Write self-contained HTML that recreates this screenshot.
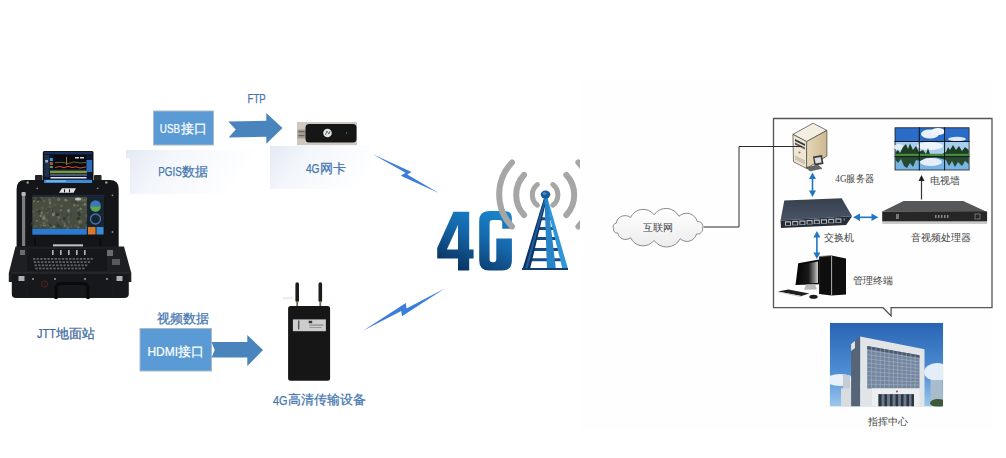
<!DOCTYPE html>
<html><head><meta charset="utf-8">
<style>
html,body{margin:0;padding:0;background:#fff;width:1006px;height:458px;overflow:hidden;}
body{position:relative;font-family:"Liberation Sans",sans-serif;}
svg{position:absolute;left:0;top:0;}
.t{position:absolute;white-space:nowrap;line-height:1;}
.bl{color:#4a7ebb;font-size:13px;}
.wh{color:#fff;font-size:13px;}
.sr{font-family:"Liberation Serif",serif;color:#333;font-size:10px;}
</style></head><body>
<svg width="1006" height="458" viewBox="0 0 1006 458">
<defs>
  <linearGradient id="fadeA" gradientUnits="userSpaceOnUse" x1="126" y1="150" x2="215" y2="215">
    <stop offset="0" stop-color="#e3e9f3"/>
    <stop offset="0.35" stop-color="#f3f6fb"/>
    <stop offset="1" stop-color="#ffffff"/>
  </linearGradient>
  <linearGradient id="fadeB" gradientUnits="userSpaceOnUse" x1="270" y1="146" x2="345" y2="205">
    <stop offset="0" stop-color="#e3e9f3"/>
    <stop offset="0.35" stop-color="#f3f6fb"/>
    <stop offset="1" stop-color="#ffffff"/>
  </linearGradient>
  <linearGradient id="g4g" gradientUnits="userSpaceOnUse" x1="500" y1="205" x2="470" y2="275">
    <stop offset="0" stop-color="#1a8bd2"/>
    <stop offset="0.5" stop-color="#1567ab"/>
    <stop offset="1" stop-color="#0a3360"/>
  </linearGradient>
  <linearGradient id="sky" x1="0" y1="0" x2="0" y2="1">
    <stop offset="0" stop-color="#2d6fbf"/>
    <stop offset="1" stop-color="#9cc6ea"/>
  </linearGradient>
</defs>
<!-- faint right backdrop -->
<rect x="580" y="79" width="413" height="351" fill="#fdfdfd" opacity="0.6"/>
<!-- fade boxes -->
<path d="M126 150 H270 V194 H130 V158 H126 Z" fill="url(#fadeA)"/>
<rect x="270" y="146" width="101" height="43" fill="url(#fadeB)"/>

<!-- USB box -->
<rect x="153.5" y="111" width="60" height="34" fill="#5b9bd5" stroke="#a9b9c9" stroke-width="1"/>
<!-- arrow 1 -->
<polygon points="228.3,121.4 266.3,120.7 266.3,113.1 282.5,127.9 266.3,143.7 266.3,136.7 228.7,137.6 235.7,129.5" fill="#4a84bd"/>
<!-- dongle -->
<rect x="297" y="122" width="60" height="23.2" fill="#cec8c2"/>
<rect x="297.5" y="129.5" width="9" height="9" fill="#a59c92"/>
<rect x="298.5" y="131" width="6" height="1.2" fill="#6a625a"/><rect x="298.5" y="135" width="6" height="1.2" fill="#6a625a"/>
<rect x="305.5" y="124" width="51" height="18.5" rx="3.5" fill="#161616"/>
<circle cx="327.5" cy="133" r="4.3" fill="#e4e4e4"/>
<path d="M325.5 135 L327 131 L329 134 L330 131" fill="none" stroke="#555" stroke-width="0.8"/>
<rect x="346" y="132.5" width="1.2" height="1" fill="#888"/>

<!-- HDMI box -->
<rect x="140" y="328.5" width="71.5" height="42.5" fill="#5b9bd5" stroke="#a9b9c9" stroke-width="1"/>
<polygon points="211.5,341.9 247.3,341.9 247.3,334.9 263,350.1 247.3,366 247.3,357.6 211.5,357.6 214.7,350.1" fill="#4a84bd"/>

<!-- lightning bolts -->
<polygon points="372.3,153.9 411.6,171.9 407.2,174.5 438.7,192.9 400.8,175.8 405.5,172.8" fill="#3b7ddb"/>
<polygon points="363,330.8 405.8,303 406.5,308.6 444.7,288.4 402,316.3 401.2,311" fill="#3b7ddb"/>

<!-- 4G logo -->
<g>
  <path d="M453.5 211.7 H469.2 V249.6 H473.6 V258.5 H469.2 V270.4 H458 V258.5 H437.2 V248.1 Z M458 225.1 V249.6 H446.9 Z" fill="url(#g4g)" fill-rule="evenodd"/>
  <path d="M489.5 210.9 H504.5 Q511.9 210.9 511.9 218.3 V228.8 H502.2 V222.9 Q502.2 219.9 499.2 219.9 H492.6 Q489.6 219.9 489.6 222.9 V259.2 Q489.6 262.2 492.6 262.2 H493.3 Q496.3 262.2 496.3 259.2 V238.4 H511.9 V260.4 Q511.9 270.4 501.9 270.4 H489.2 Q479.2 270.4 479.2 260.4 V220.9 Q479.2 210.9 489.2 210.9 Z" fill="url(#g4g)"/>
  <!-- waves -->
  <clipPath id="wclip"><rect x="480" y="150" width="100" height="90"/></clipPath>
  <g fill="none" stroke="#a6a6a6" stroke-linecap="round" clip-path="url(#wclip)">
    <path d="M537.4 184.6 A13 13 0 0 0 537.4 205.2" stroke-width="5"/>
    <path d="M552.8 184.6 A13 13 0 0 1 552.8 205.2" stroke-width="5"/>
    <path d="M524.1 174.9 A29.5 29.5 0 0 0 524.1 215.1" stroke-width="6"/>
    <path d="M566.3 174.9 A29.5 29.5 0 0 1 566.3 215.1" stroke-width="6"/>
    <path d="M512 162.5 A46.4 46.4 0 0 0 512 226.5" stroke-width="6"/>
    <path d="M578.4 162.5 A46.4 46.4 0 0 1 578.4 226.5" stroke-width="6"/>
  </g>
  <!-- tower -->
  <g stroke="#184c88" stroke-width="3">
    <line x1="539" y1="218.8" x2="553" y2="218.8"/>
    <line x1="536" y1="228.5" x2="556" y2="228.5"/>
    <line x1="533" y1="238.5" x2="559" y2="238.5"/>
    <line x1="529.5" y1="249.4" x2="562" y2="249.4"/>
    <line x1="526" y1="259.7" x2="565" y2="259.7"/>
  </g>
  <polygon points="544,198 547,198 530,269 522.5,269" fill="#0c3262"/>
  <polygon points="544.5,198 546,199 527.5,269 525,269" fill="#1f5e9e"/>
  <polygon points="545,198 547.5,198 568,269 562.5,269" fill="#2f96d8"/>
  <polygon points="544.5,198 547.5,198 556,270 547,270" fill="#2784c8"/>
  <rect x="522" y="268" width="46" height="2" fill="#123e70"/>
  <ellipse cx="545.5" cy="194.6" rx="4.8" ry="4" fill="#1a5a98"/>
  <ellipse cx="544.5" cy="193.5" rx="2" ry="1.5" fill="#3a8ad0"/>
</g>

<!-- ground station -->
<g>
  <!-- lid -->
  <rect x="35" y="175" width="7.5" height="7" rx="1" fill="#222428"/>
  <rect x="94" y="175" width="7.5" height="7" rx="1" fill="#222428"/>
  <path d="M16.6 247 V189 Q16.6 180 25 180 H110 Q118.7 180 118.7 189 V247 Z" fill="#141519"/>
  <circle cx="27.7" cy="182.5" r="1.2" fill="#9a9a9a"/><circle cx="106.3" cy="182.5" r="1.2" fill="#9a9a9a"/><circle cx="37.3" cy="188.3" r="0.9" fill="#888"/><circle cx="97.6" cy="188.3" r="0.9" fill="#888"/><circle cx="112.5" cy="195.3" r="0.9" fill="#888"/><circle cx="112.5" cy="232" r="0.9" fill="#888"/>
  <path d="M59 192.7 L62 188.3 H76 L73.5 192.7 Z" fill="#e0e0e0"/><rect x="64" y="189.3" width="1" height="3" fill="#141519"/><rect x="69" y="189.3" width="1" height="3" fill="#141519"/>
  <!-- top monitor -->
  <rect x="42.8" y="150.9" width="50.7" height="33.2" rx="1.5" fill="#121418"/>
  <rect x="44.1" y="152.2" width="48" height="31" fill="#0e1630"/>
  <rect x="44.1" y="152.6" width="48" height="0.8" fill="#2a5aa0"/>
  <rect x="44.5" y="155" width="4.5" height="22" fill="#22304a"/>
  <rect x="45.2" y="160" width="2.8" height="2.5" fill="#9ab4d0"/>
  <rect x="49.8" y="158" width="3" height="3" fill="#3a9ad0"/><rect x="49.8" y="162" width="3" height="3" fill="#c05030"/><rect x="49.8" y="166" width="3" height="2" fill="#50a060"/>
  <rect x="53.7" y="155" width="32.3" height="14" fill="#080a10"/>
  <polyline points="55,162.7 62,162.3 68,163.5 74,162 80,163 86,162.5" fill="none" stroke="#8a8a30" stroke-width="0.7"/>
  <polyline points="55,167.5 60,166.5 64,167.8 68,166.3 72,167.5 76,166.8 80,168 86,167" fill="none" stroke="#e04830" stroke-width="1"/>
  <rect x="66" y="157" width="1" height="8" fill="#b06a40"/>
  <rect x="75" y="157" width="4" height="1.5" fill="#d0d0d0"/><rect x="80" y="157" width="4" height="1.5" fill="#d0d0d0"/>
  <rect x="50" y="170.6" width="37" height="2.6" fill="#7a9a40"/>
  <rect x="50" y="174" width="37" height="2" fill="#4a5a6a"/>
  <rect x="50.5" y="177" width="36" height="1.5" fill="#e0e4ea"/>
  <rect x="44.1" y="179.8" width="48" height="3.2" fill="#3e8ad0"/>
  <rect x="46" y="180.5" width="20" height="1.2" fill="#8ac8f0"/>
  <rect x="86.5" y="160" width="5.6" height="12" fill="#2d6ab8"/>
  <!-- screen -->
  <rect x="31.8" y="194.2" width="72.6" height="41" fill="#0f1216"/>
  <rect x="32.3" y="196.5" width="54.8" height="32.3" fill="#474d40"/><circle cx="57.4" cy="214.4" r="1.7" fill="#2a3228" opacity="0.75"/><circle cx="57.4" cy="223.5" r="0.7" fill="#3a4535" opacity="0.75"/><circle cx="58.7" cy="216.0" r="0.7" fill="#2a3228" opacity="0.75"/><circle cx="49.4" cy="199.8" r="1.6" fill="#6a6a58" opacity="0.75"/><circle cx="67.3" cy="215.5" r="1.0" fill="#2a3228" opacity="0.75"/><circle cx="68.3" cy="216.1" r="0.7" fill="#7a7a6a" opacity="0.75"/><circle cx="77.9" cy="199.0" r="0.5" fill="#5a6050" opacity="0.75"/><circle cx="65.4" cy="221.1" r="0.9" fill="#3a4535" opacity="0.75"/><circle cx="78.5" cy="213.1" r="1.3" fill="#2a3228" opacity="0.75"/><circle cx="33.2" cy="199.6" r="1.4" fill="#2a3228" opacity="0.75"/><circle cx="86.9" cy="227.9" r="1.6" fill="#6a6a58" opacity="0.75"/><circle cx="46.7" cy="220.5" r="1.2" fill="#7a7a6a" opacity="0.75"/><circle cx="36.8" cy="220.8" r="1.0" fill="#8a8878" opacity="0.75"/><circle cx="53.9" cy="226.7" r="1.6" fill="#7a7a6a" opacity="0.75"/><circle cx="44.5" cy="225.7" r="0.6" fill="#2a3228" opacity="0.75"/><circle cx="85.9" cy="209.3" r="0.6" fill="#6a6a58" opacity="0.75"/><circle cx="43.7" cy="217.9" r="0.9" fill="#8a8878" opacity="0.75"/><circle cx="51.0" cy="226.9" r="1.5" fill="#7a7a6a" opacity="0.75"/><circle cx="40.3" cy="218.9" r="0.5" fill="#2a3228" opacity="0.75"/><circle cx="76.0" cy="202.5" r="1.2" fill="#2a3228" opacity="0.75"/><circle cx="60.5" cy="227.5" r="1.5" fill="#2a3228" opacity="0.75"/><circle cx="67.8" cy="200.6" r="1.0" fill="#5a6050" opacity="0.75"/><circle cx="33.0" cy="223.8" r="1.8" fill="#3a4535" opacity="0.75"/><circle cx="49.4" cy="224.4" r="0.8" fill="#2a3228" opacity="0.75"/><circle cx="86.8" cy="215.7" r="1.3" fill="#7a7a6a" opacity="0.75"/><circle cx="86.4" cy="203.6" r="0.8" fill="#3a4535" opacity="0.75"/><circle cx="50.8" cy="206.2" r="0.6" fill="#7a7a6a" opacity="0.75"/><circle cx="44.3" cy="216.7" r="0.5" fill="#8a8878" opacity="0.75"/><circle cx="53.1" cy="211.0" r="1.7" fill="#2a3228" opacity="0.75"/><circle cx="77.9" cy="201.2" r="1.0" fill="#6a6a58" opacity="0.75"/><circle cx="41.3" cy="225.2" r="1.6" fill="#5a6050" opacity="0.75"/><circle cx="72.2" cy="201.9" r="1.3" fill="#3a4535" opacity="0.75"/><circle cx="43.6" cy="226.5" r="1.6" fill="#3a4535" opacity="0.75"/><circle cx="37.2" cy="198.5" r="0.6" fill="#3a4535" opacity="0.75"/><circle cx="85.0" cy="204.4" r="1.4" fill="#8a8878" opacity="0.75"/><circle cx="55.7" cy="225.0" r="1.1" fill="#3a4535" opacity="0.75"/><circle cx="42.5" cy="219.3" r="0.6" fill="#5a6050" opacity="0.75"/><circle cx="58.9" cy="217.3" r="1.3" fill="#7a7a6a" opacity="0.75"/><circle cx="48.1" cy="225.4" r="0.8" fill="#7a7a6a" opacity="0.75"/><circle cx="36.7" cy="209.8" r="0.8" fill="#7a7a6a" opacity="0.75"/><circle cx="42.5" cy="208.4" r="1.2" fill="#5a6050" opacity="0.75"/><circle cx="38.0" cy="201.3" r="1.1" fill="#8a8878" opacity="0.75"/><circle cx="68.5" cy="218.4" r="1.3" fill="#5a6050" opacity="0.75"/><circle cx="64.9" cy="225.6" r="1.1" fill="#8a8878" opacity="0.75"/><circle cx="70.9" cy="226.8" r="0.5" fill="#6a6a58" opacity="0.75"/><circle cx="37.0" cy="199.1" r="0.9" fill="#5a6050" opacity="0.75"/><circle cx="87.0" cy="199.3" r="1.2" fill="#6a6a58" opacity="0.75"/><circle cx="35.4" cy="226.0" r="1.5" fill="#5a6050" opacity="0.75"/><circle cx="75.8" cy="225.4" r="1.0" fill="#6a6a58" opacity="0.75"/><circle cx="58.6" cy="199.4" r="1.6" fill="#7a7a6a" opacity="0.75"/><circle cx="79.6" cy="214.8" r="1.3" fill="#2a3228" opacity="0.75"/><circle cx="53.5" cy="197.4" r="0.6" fill="#7a7a6a" opacity="0.75"/><circle cx="67.5" cy="227.8" r="1.6" fill="#6a6a58" opacity="0.75"/><circle cx="50.8" cy="226.0" r="1.4" fill="#2a3228" opacity="0.75"/><circle cx="56.8" cy="223.0" r="0.6" fill="#3a4535" opacity="0.75"/><circle cx="34.6" cy="215.6" r="1.1" fill="#5a6050" opacity="0.75"/><circle cx="84.7" cy="200.5" r="1.5" fill="#6a6a58" opacity="0.75"/><circle cx="82.7" cy="204.9" r="0.5" fill="#8a8878" opacity="0.75"/><circle cx="40.7" cy="216.0" r="1.2" fill="#8a8878" opacity="0.75"/><circle cx="68.6" cy="210.7" r="1.7" fill="#8a8878" opacity="0.75"/><circle cx="54.9" cy="204.8" r="1.3" fill="#5a6050" opacity="0.75"/><circle cx="80.5" cy="208.9" r="1.3" fill="#8a8878" opacity="0.75"/><circle cx="44.3" cy="201.2" r="1.0" fill="#7a7a6a" opacity="0.75"/><circle cx="71.4" cy="226.5" r="0.9" fill="#5a6050" opacity="0.75"/><circle cx="39.1" cy="211.6" r="1.7" fill="#2a3228" opacity="0.75"/><circle cx="53.7" cy="213.1" r="1.4" fill="#6a6a58" opacity="0.75"/><circle cx="78.3" cy="227.4" r="1.1" fill="#7a7a6a" opacity="0.75"/><circle cx="77.8" cy="205.6" r="1.3" fill="#6a6a58" opacity="0.75"/><circle cx="71.3" cy="214.7" r="0.9" fill="#3a4535" opacity="0.75"/><circle cx="34.0" cy="201.2" r="1.1" fill="#7a7a6a" opacity="0.75"/><circle cx="74.5" cy="205.3" r="1.5" fill="#7a7a6a" opacity="0.75"/><circle cx="86.1" cy="200.6" r="0.6" fill="#3a4535" opacity="0.75"/><circle cx="68.4" cy="222.0" r="1.7" fill="#6a6a58" opacity="0.75"/><circle cx="43.7" cy="222.5" r="0.8" fill="#6a6a58" opacity="0.75"/><circle cx="33.6" cy="211.6" r="1.4" fill="#5a6050" opacity="0.75"/><circle cx="45.2" cy="221.1" r="1.2" fill="#3a4535" opacity="0.75"/><circle cx="60.0" cy="227.9" r="0.7" fill="#6a6a58" opacity="0.75"/><circle cx="81.9" cy="199.7" r="1.7" fill="#6a6a58" opacity="0.75"/><circle cx="54.0" cy="211.0" r="0.8" fill="#7a7a6a" opacity="0.75"/><circle cx="53.3" cy="214.6" r="1.6" fill="#8a8878" opacity="0.75"/><circle cx="58.0" cy="217.2" r="0.8" fill="#6a6a58" opacity="0.75"/><circle cx="79.8" cy="221.7" r="1.7" fill="#7a7a6a" opacity="0.75"/><circle cx="44.5" cy="224.9" r="1.8" fill="#8a8878" opacity="0.75"/><circle cx="62.0" cy="221.5" r="0.9" fill="#6a6a58" opacity="0.75"/><circle cx="79.2" cy="207.8" r="0.6" fill="#2a3228" opacity="0.75"/><circle cx="51.5" cy="210.1" r="0.9" fill="#7a7a6a" opacity="0.75"/><circle cx="44.8" cy="223.9" r="1.1" fill="#7a7a6a" opacity="0.75"/><circle cx="42.3" cy="207.4" r="1.5" fill="#5a6050" opacity="0.75"/><circle cx="58.4" cy="228.0" r="1.7" fill="#3a4535" opacity="0.75"/><circle cx="78.4" cy="218.4" r="1.7" fill="#2a3228" opacity="0.75"/><circle cx="64.3" cy="218.4" r="1.5" fill="#2a3228" opacity="0.75"/><circle cx="61.4" cy="206.0" r="1.4" fill="#6a6a58" opacity="0.75"/><circle cx="41.9" cy="212.9" r="1.7" fill="#8a8878" opacity="0.75"/><circle cx="49.8" cy="208.8" r="1.6" fill="#3a4535" opacity="0.75"/><circle cx="44.2" cy="223.4" r="1.8" fill="#3a4535" opacity="0.75"/><circle cx="47.7" cy="212.4" r="1.0" fill="#7a7a6a" opacity="0.75"/><circle cx="60.2" cy="215.8" r="0.5" fill="#7a7a6a" opacity="0.75"/><circle cx="60.9" cy="209.4" r="1.5" fill="#3a4535" opacity="0.75"/><circle cx="39.6" cy="199.9" r="0.7" fill="#3a4535" opacity="0.75"/><circle cx="57.8" cy="225.5" r="1.5" fill="#2a3228" opacity="0.75"/><circle cx="47.5" cy="211.7" r="0.7" fill="#2a3228" opacity="0.75"/><circle cx="81.6" cy="226.0" r="1.7" fill="#3a4535" opacity="0.75"/><circle cx="50.1" cy="202.9" r="1.3" fill="#8a8878" opacity="0.75"/><circle cx="40.0" cy="221.2" r="0.5" fill="#5a6050" opacity="0.75"/><circle cx="41.4" cy="197.4" r="0.9" fill="#6a6a58" opacity="0.75"/><circle cx="52.2" cy="216.2" r="0.6" fill="#6a6a58" opacity="0.75"/><circle cx="64.4" cy="223.4" r="1.3" fill="#6a6a58" opacity="0.75"/><circle cx="43.7" cy="213.4" r="1.1" fill="#2a3228" opacity="0.75"/><circle cx="67.2" cy="222.6" r="1.3" fill="#3a4535" opacity="0.75"/><circle cx="44.0" cy="216.6" r="1.3" fill="#3a4535" opacity="0.75"/><circle cx="44.7" cy="213.8" r="1.3" fill="#5a6050" opacity="0.75"/><circle cx="45.6" cy="220.0" r="1.6" fill="#5a6050" opacity="0.75"/><circle cx="50.1" cy="206.8" r="1.7" fill="#5a6050" opacity="0.75"/><circle cx="75.0" cy="203.0" r="0.6" fill="#5a6050" opacity="0.75"/><circle cx="40.2" cy="199.7" r="1.0" fill="#2a3228" opacity="0.75"/><circle cx="77.9" cy="210.1" r="1.5" fill="#5a6050" opacity="0.75"/><circle cx="43.8" cy="216.5" r="1.5" fill="#7a7a6a" opacity="0.75"/><circle cx="43.9" cy="218.2" r="1.7" fill="#8a8878" opacity="0.75"/><circle cx="39.2" cy="212.7" r="1.5" fill="#3a4535" opacity="0.75"/><circle cx="86.9" cy="222.8" r="1.5" fill="#2a3228" opacity="0.75"/><circle cx="38.7" cy="198.2" r="1.2" fill="#3a4535" opacity="0.75"/><circle cx="81.9" cy="211.9" r="0.7" fill="#7a7a6a" opacity="0.75"/><circle cx="44.0" cy="223.0" r="1.8" fill="#6a6a58" opacity="0.75"/><circle cx="38.1" cy="198.9" r="1.7" fill="#2a3228" opacity="0.75"/><circle cx="37.2" cy="200.0" r="1.0" fill="#2a3228" opacity="0.75"/><circle cx="60.8" cy="210.3" r="1.3" fill="#7a7a6a" opacity="0.75"/><circle cx="67.2" cy="198.3" r="0.8" fill="#2a3228" opacity="0.75"/><circle cx="57.5" cy="219.9" r="1.0" fill="#5a6050" opacity="0.75"/><circle cx="65.7" cy="199.9" r="1.5" fill="#8a8878" opacity="0.75"/><circle cx="81.2" cy="221.9" r="1.4" fill="#6a6a58" opacity="0.75"/><ellipse cx="78" cy="199" rx="3" ry="1.5" fill="#d8dcd8" opacity="0.8"/><rect x="32.3" y="194.7" width="72" height="2" fill="#1e2a3a"/>
  <rect x="32.3" y="228.8" width="54.5" height="5.9" fill="#2c7ad0"/>
  <rect x="87" y="196.5" width="17" height="38" fill="#1a2330"/>
  <circle cx="95.5" cy="205.5" r="5.3" fill="#3a78b8"/>
  <path d="M90.2 206.5 H100.8 A5.3 5.3 0 0 1 90.2 206.5 Z" fill="#5aa850"/>
  <circle cx="95.5" cy="219" r="5" fill="none" stroke="#3a7ab8" stroke-width="1.3"/>
  <rect x="88" y="227" width="7.5" height="7.5" fill="#d8782a"/>
  <rect x="96.5" y="227" width="7" height="7.5" fill="#3a8ad6"/>
  <rect x="22" y="194" width="3.2" height="52" fill="#7a7d82"/>
  <rect x="21.5" y="192" width="4.2" height="4" rx="1" fill="#b8b8b8"/>
  <rect x="53" y="244.3" width="30" height="2.4" fill="#c0c0c0"/><rect x="34" y="238" width="1.6" height="14" fill="#0a0a0a"/><rect x="99.5" y="238" width="1.6" height="14" fill="#0a0a0a"/>
  <!-- base -->
  <path d="M8.8 273 L15.5 246.5 H124 L131.3 273 V282 H8.8 Z" fill="#1e1f23"/>
  <rect x="27" y="249" width="80" height="22" fill="#16171a"/>
  <rect x="52" y="250" width="1.6" height="5" fill="#b5b5b5"/><rect x="60" y="250" width="1.6" height="5" fill="#b5b5b5"/><rect x="68" y="250" width="1.6" height="5" fill="#b5b5b5"/><rect x="76" y="250" width="1.6" height="5" fill="#b5b5b5"/><rect x="84" y="250" width="1.6" height="5" fill="#b5b5b5"/>
  <rect x="33.0" y="258.0" width="2.3" height="1.8" fill="#5e6166"/><rect x="36.6" y="258.0" width="2.3" height="1.8" fill="#5e6166"/><rect x="40.2" y="258.0" width="2.3" height="1.8" fill="#5e6166"/><rect x="43.8" y="258.0" width="2.3" height="1.8" fill="#5e6166"/><rect x="47.4" y="258.0" width="2.3" height="1.8" fill="#5e6166"/><rect x="51.0" y="258.0" width="2.3" height="1.8" fill="#5e6166"/><rect x="54.6" y="258.0" width="2.3" height="1.8" fill="#5e6166"/><rect x="58.2" y="258.0" width="2.3" height="1.8" fill="#5e6166"/><rect x="61.8" y="258.0" width="2.3" height="1.8" fill="#5e6166"/><rect x="65.4" y="258.0" width="2.3" height="1.8" fill="#5e6166"/><rect x="69.0" y="258.0" width="2.3" height="1.8" fill="#5e6166"/><rect x="72.6" y="258.0" width="2.3" height="1.8" fill="#5e6166"/><rect x="76.2" y="258.0" width="2.3" height="1.8" fill="#5e6166"/><rect x="79.8" y="258.0" width="2.3" height="1.8" fill="#5e6166"/><rect x="83.4" y="258.0" width="2.3" height="1.8" fill="#5e6166"/><rect x="87.0" y="258.0" width="2.3" height="1.8" fill="#5e6166"/><rect x="90.6" y="258.0" width="2.3" height="1.8" fill="#5e6166"/><rect x="33.8" y="261.2" width="2.3" height="1.8" fill="#5e6166"/><rect x="37.4" y="261.2" width="2.3" height="1.8" fill="#5e6166"/><rect x="41.0" y="261.2" width="2.3" height="1.8" fill="#5e6166"/><rect x="44.6" y="261.2" width="2.3" height="1.8" fill="#5e6166"/><rect x="48.2" y="261.2" width="2.3" height="1.8" fill="#5e6166"/><rect x="51.8" y="261.2" width="2.3" height="1.8" fill="#5e6166"/><rect x="55.4" y="261.2" width="2.3" height="1.8" fill="#5e6166"/><rect x="59.0" y="261.2" width="2.3" height="1.8" fill="#5e6166"/><rect x="62.6" y="261.2" width="2.3" height="1.8" fill="#5e6166"/><rect x="66.2" y="261.2" width="2.3" height="1.8" fill="#5e6166"/><rect x="69.8" y="261.2" width="2.3" height="1.8" fill="#5e6166"/><rect x="73.4" y="261.2" width="2.3" height="1.8" fill="#5e6166"/><rect x="77.0" y="261.2" width="2.3" height="1.8" fill="#5e6166"/><rect x="80.6" y="261.2" width="2.3" height="1.8" fill="#5e6166"/><rect x="84.2" y="261.2" width="2.3" height="1.8" fill="#5e6166"/><rect x="87.8" y="261.2" width="2.3" height="1.8" fill="#5e6166"/><rect x="34.6" y="264.4" width="2.3" height="1.8" fill="#5e6166"/><rect x="38.2" y="264.4" width="2.3" height="1.8" fill="#5e6166"/><rect x="41.8" y="264.4" width="2.3" height="1.8" fill="#5e6166"/><rect x="45.4" y="264.4" width="2.3" height="1.8" fill="#5e6166"/><rect x="49.0" y="264.4" width="2.3" height="1.8" fill="#5e6166"/><rect x="52.6" y="264.4" width="2.3" height="1.8" fill="#5e6166"/><rect x="56.2" y="264.4" width="2.3" height="1.8" fill="#5e6166"/><rect x="59.8" y="264.4" width="2.3" height="1.8" fill="#5e6166"/><rect x="63.4" y="264.4" width="2.3" height="1.8" fill="#5e6166"/><rect x="67.0" y="264.4" width="2.3" height="1.8" fill="#5e6166"/><rect x="70.6" y="264.4" width="2.3" height="1.8" fill="#5e6166"/><rect x="74.2" y="264.4" width="2.3" height="1.8" fill="#5e6166"/><rect x="77.8" y="264.4" width="2.3" height="1.8" fill="#5e6166"/><rect x="81.4" y="264.4" width="2.3" height="1.8" fill="#5e6166"/><rect x="85.0" y="264.4" width="2.3" height="1.8" fill="#5e6166"/><rect x="35.4" y="267.6" width="2.3" height="1.8" fill="#5e6166"/><rect x="39.0" y="267.6" width="2.3" height="1.8" fill="#5e6166"/><rect x="42.6" y="267.6" width="2.3" height="1.8" fill="#5e6166"/><rect x="46.2" y="267.6" width="2.3" height="1.8" fill="#5e6166"/><rect x="49.8" y="267.6" width="2.3" height="1.8" fill="#5e6166"/><rect x="53.4" y="267.6" width="2.3" height="1.8" fill="#5e6166"/><rect x="57.0" y="267.6" width="2.3" height="1.8" fill="#5e6166"/><rect x="60.6" y="267.6" width="2.3" height="1.8" fill="#5e6166"/><rect x="64.2" y="267.6" width="2.3" height="1.8" fill="#5e6166"/><rect x="67.8" y="267.6" width="2.3" height="1.8" fill="#5e6166"/><rect x="71.4" y="267.6" width="2.3" height="1.8" fill="#5e6166"/><rect x="75.0" y="267.6" width="2.3" height="1.8" fill="#5e6166"/><rect x="78.6" y="267.6" width="2.3" height="1.8" fill="#5e6166"/><rect x="82.2" y="267.6" width="2.3" height="1.8" fill="#5e6166"/>
  <rect x="20" y="250" width="5" height="5" fill="#6a6d70"/>
  <rect x="107" y="250" width="6" height="6" fill="#6a6d70"/>
  <rect x="112" y="259" width="8" height="6" fill="#555a60"/>
  <path d="M11.8 273 H128.8 V294 Q128.8 298 124 298 H16 Q11.8 298 11.8 294 Z" fill="#17181b"/>
  <line x1="11" y1="273" x2="130" y2="273" stroke="#2e3034" stroke-width="1.2"/>
  <rect x="18.5" y="276" width="6" height="5" fill="#b0b0b0"/>
  <rect x="116.5" y="276" width="6" height="5" fill="#b0b0b0"/>
  <circle cx="33" cy="279" r="0.9" fill="#aaa"/><circle cx="55" cy="279" r="0.9" fill="#aaa"/>
  <circle cx="85" cy="279" r="0.9" fill="#aaa"/><circle cx="107" cy="279" r="0.9" fill="#aaa"/>
  <circle cx="44.5" cy="284" r="3.2" fill="#241818" stroke="#6a2a2a" stroke-width="0.6"/>
  <path d="M56 299 V289 Q56 283.5 61.5 283.5 H82.5 Q88 283.5 88 289 V299" fill="none" stroke="#0a0a0c" stroke-width="3.2"/>
  <line x1="27" y1="273" x2="27" y2="297" stroke="#222" stroke-width="0.8"/>
  <line x1="113" y1="273" x2="113" y2="297" stroke="#222" stroke-width="0.8"/>
</g>

<!-- 4G transmission device -->
<line x1="283" y1="298.1" x2="293" y2="298.1" stroke="#c8d2de" stroke-width="0.8"/>
<rect x="295.4" y="282.3" width="3.6" height="20" rx="1.8" fill="#1c1c1c"/>
<rect x="318.5" y="282.3" width="3.6" height="20" rx="1.8" fill="#1c1c1c"/>
<rect x="296.3" y="301" width="1.8" height="5.5" fill="#7a6440"/>
<rect x="319.4" y="301" width="1.8" height="5.5" fill="#7a6440"/>
<rect x="288.1" y="306.1" width="42" height="74.7" rx="2.5" fill="#161616"/>
<rect x="292.9" y="319.4" width="33" height="11.8" fill="#cdcdcd"/>
<rect x="298" y="320.5" width="1.4" height="9" fill="#555"/>
<rect x="308.7" y="320.8" width="3.5" height="2.4" fill="#333"/>
<rect x="309.5" y="324.5" width="14" height="1.2" fill="#888"/>
<rect x="309.5" y="327" width="12" height="1" fill="#999"/>

<!-- right diagram -->
<!-- cloud -->
<linearGradient id="cloudg" x1="0" y1="0" x2="0" y2="1"><stop offset="0" stop-color="#ffffff"/><stop offset="1" stop-color="#ececec"/></linearGradient>
<path d="M702.5 227.6 A4.6 4.6 0 0 0 697.3 221.6 A11.1 11.1 0 0 0 678.9 216.3 A14.4 14.4 0 0 0 654.1 214.8 A13.7 13.7 0 0 0 630.6 217.5 A9.0 9.0 0 0 0 616.2 223.2 A3.5 3.5 0 0 0 613.7 228.7 A3.4 3.4 0 0 0 617.7 233.0 A8.0 8.0 0 0 0 630.6 237.7 A13.7 13.7 0 0 0 654.1 240.4 A15.2 15.2 0 0 0 680.2 238.7 A9.8 9.8 0 0 0 696.5 234.0 A5.1 5.1 0 0 0 702.5 227.6 Z" fill="url(#cloudg)" stroke="#8a8a8a" stroke-width="1"/>
<polyline points="703.5,227 739,227 739,146.5 802,146.5" fill="none" stroke="#2a2a2a" stroke-width="1"/>
<!-- callout -->
<path d="M773.5 118.5 H992 V307.7 H891.1 V316 L883 307.7 H773.5 Z" fill="none" stroke="#555" stroke-width="1.3"/>

<!-- server -->
<linearGradient id="srvside" x1="0" y1="0" x2="1" y2="0"><stop offset="0" stop-color="#e6d8b8"/><stop offset="1" stop-color="#cdb890"/></linearGradient>
<polygon points="813.1,123.2 826.9,130.4 806.6,141.6 792.9,134.4" fill="#f4eee2" stroke="#444" stroke-width="0.7"/>
<polygon points="792.9,134.4 806.6,141.6 806.6,168.4 793.5,161.8" fill="#efe7d4" stroke="#444" stroke-width="0.7"/>
<polygon points="806.6,141.6 826.9,130.4 826.9,156 806.6,168.4" fill="url(#srvside)" stroke="#444" stroke-width="0.7"/>
<polygon points="795,139 805,144 805,146 795,141" fill="#3a3a3a"/>
<polygon points="795,142.5 805,147.5 805,149.5 795,144.5" fill="#5a5a5a"/>
<circle cx="799.5" cy="152.5" r="1.1" fill="#8a8070"/>
<g stroke="#8a8070" stroke-width="0.5"><line x1="795" y1="156" x2="805" y2="161"/><line x1="795" y1="157.5" x2="805" y2="162.5"/><line x1="795" y1="159" x2="805" y2="164"/></g>
<polyline points="739,146.5 802,146.5" fill="none" stroke="#2a2a2a" stroke-width="1"/>
<polygon points="813,156.5 822,155 823.5,164 814.5,165.5" fill="#3a3a3a"/>
<polygon points="814.6,158 820.6,157 821.6,162.5 815.6,163.5" fill="#d8e0e8"/>
<polygon points="806,167.5 818,165 822,168.5 810,171" fill="#666" stroke="#333" stroke-width="0.4"/>
<!-- video wall -->
<rect x="894.6" y="127.3" width="74.9" height="43.1" fill="#1a2430"/>
<rect x="895.5" y="128.2" width="73.2" height="13.3" fill="#2a6cc8"/>
<ellipse cx="930" cy="134" rx="9" ry="4.5" fill="#e8f0fa"/>
<ellipse cx="938" cy="131.5" rx="7" ry="3.5" fill="#f2f6fc"/>
<ellipse cx="957" cy="139" rx="9" ry="2.2" fill="#dce8f6"/>
<rect x="895.5" y="141.5" width="73.2" height="15.1" fill="#a8cdee"/>
<ellipse cx="930" cy="146" rx="13" ry="4" fill="#eef4fb"/>
<ellipse cx="899" cy="147" rx="5" ry="3" fill="#e4eef8"/>
<path d="M895.5 156.6 V152 L898 150 L900 153 L903 147 L906 144 L908 149 L910 143.5 L913 150 L916 146 L919 152 L923 150 L926 154 L928 148 L930 154 L940 155 L946 152 L948 147 L950 150 L953 145 L956 150 L959 146 L962 151 L965 147 L968.7 150 V156.6 Z" fill="#1d3e22"/>
<rect x="895.5" y="153.8" width="73.2" height="2.8" fill="#4a8a3c"/>
<rect x="895.5" y="156.6" width="73.2" height="13" fill="#78b4e4"/>
<ellipse cx="931" cy="162" rx="11" ry="4" fill="#e6eff9"/>
<path d="M895.5 156.6 V160 L898 163 L901 159 L904 166 L907 168 L910 163 L913 167 L916 160 L920 161 L926 158 L936 157.6 L946 160 L949 166 L952 161 L955 167 L958 162 L962 166 L965 161 L968.7 164 V156.6 Z" fill="#284a30"/>
<g stroke="#10161c" stroke-width="1">
  <line x1="919.3" y1="127.3" x2="919.3" y2="170.4"/>
  <line x1="944.6" y1="127.3" x2="944.6" y2="170.4"/>
  <line x1="894.6" y1="141.5" x2="969.5" y2="141.5"/>
  <line x1="894.6" y1="156.6" x2="969.5" y2="156.6"/>
</g>
<!-- black arrow up -->
<line x1="921.5" y1="180" x2="921.5" y2="199.5" stroke="#333" stroke-width="1.2"/>
<polygon points="921.5,175 918.5,181 924.5,181" fill="#222"/>

<!-- switch -->
<linearGradient id="swtop" x1="0" y1="0" x2="0" y2="1"><stop offset="0" stop-color="#38404c"/><stop offset="1" stop-color="#485468"/></linearGradient>
<polygon points="784.3,200.4 841.7,198.2 852.1,216.2 780.5,220.6" fill="url(#swtop)"/>
<polygon points="780.5,220.6 852.1,216.2 846.1,225 781,228" fill="#262d38"/>
<rect x="785.0" y="221.3" width="6" height="4.4" fill="#b8bcc2"/><rect x="786.0" y="222.5" width="4" height="2.6" fill="#20262e"/><rect x="792.2" y="220.9" width="6" height="4.4" fill="#b8bcc2"/><rect x="793.2" y="222.1" width="4" height="2.6" fill="#20262e"/><rect x="799.4" y="220.5" width="6" height="4.4" fill="#b8bcc2"/><rect x="800.4" y="221.7" width="4" height="2.6" fill="#20262e"/><rect x="806.6" y="220.0" width="6" height="4.4" fill="#b8bcc2"/><rect x="807.6" y="221.2" width="4" height="2.6" fill="#20262e"/><rect x="813.8" y="219.6" width="6" height="4.4" fill="#b8bcc2"/><rect x="814.8" y="220.8" width="4" height="2.6" fill="#20262e"/><rect x="821.0" y="219.2" width="6" height="4.4" fill="#b8bcc2"/><rect x="822.0" y="220.4" width="4" height="2.6" fill="#20262e"/><rect x="828.2" y="218.8" width="6" height="4.4" fill="#b8bcc2"/><rect x="829.2" y="220.0" width="4" height="2.6" fill="#20262e"/><rect x="835.4" y="218.4" width="6" height="4.4" fill="#b8bcc2"/><rect x="836.4" y="219.6" width="4" height="2.6" fill="#20262e"/>
<rect x="843.5" y="218.5" width="1.5" height="2" fill="#4a9a4a"/>
<!-- processor -->
<polygon points="903.6,201 963.3,201 987.1,212 882.2,211.5" fill="#555759"/>
<rect x="882.2" y="211.5" width="104.9" height="10.1" fill="#262626"/>
<rect x="882.2" y="221.6" width="104.9" height="2.4" fill="#c9c9c9"/>
<rect x="896" y="214" width="3" height="5" fill="#777"/>
<g fill="#888"><rect x="935" y="215" width="1.5" height="3"/><rect x="938" y="215" width="1.5" height="3"/><rect x="941" y="215" width="1.5" height="3"/><rect x="944" y="215" width="1.5" height="3"/><rect x="947" y="215" width="1.5" height="3"/></g>
<rect x="975" y="214" width="5" height="5" fill="none" stroke="#888" stroke-width="0.8"/>

<!-- blue double arrows -->
<g fill="#1f76c6" stroke="#1f76c6">
  <line x1="812.5" y1="178" x2="812.5" y2="191" stroke-width="1.6"/>
  <polygon points="812.5,172.5 809,179 816,179" stroke="none"/>
  <polygon points="812.5,197.1 809,190.5 816,190.5" stroke="none"/>
  <line x1="859" y1="217.3" x2="872" y2="217.3" stroke-width="1.6"/>
  <polygon points="853.2,217.3 860,213.5 860,221" stroke="none"/>
  <polygon points="878.3,217.3 871.5,213.5 871.5,221" stroke="none"/>
  <line x1="816.9" y1="237" x2="816.9" y2="253" stroke-width="1.6"/>
  <polygon points="816.9,231 813.4,237.5 820.4,237.5" stroke="none"/>
  <polygon points="816.9,259 813.4,252.5 820.4,252.5" stroke="none"/>
</g>

<!-- PC -->
<linearGradient id="mong" x1="0" y1="0" x2="1" y2="0"><stop offset="0" stop-color="#050505"/><stop offset="0.55" stop-color="#1a1a1a"/><stop offset="0.85" stop-color="#8a8a8a"/><stop offset="1" stop-color="#d0d0d0"/></linearGradient>
<polygon points="798.2,263.3 819.1,259.4 819.1,284.3 795.5,285" fill="#0a0a0a"/>
<polygon points="799.5,265 818,261.5 818,283 797.2,283.8" fill="url(#mong)"/>
<polygon points="806,284.5 815,284.3 817,289.5 804,289.8" fill="#b8b8b8"/>
<polygon points="819.1,256.5 831.6,255.5 846,258.5 846,294.5 831.6,295.4 819.1,294" fill="#0e0e0e"/>
<line x1="831.6" y1="256" x2="831.6" y2="295.2" stroke="#b0b0b0" stroke-width="1"/>
<line x1="819.1" y1="256.5" x2="831.6" y2="255.5" stroke="#888" stroke-width="0.8"/>
<polygon points="777.9,291.5 788.3,289.5 809.3,293.5 801.4,296.1" fill="#1e1e1e"/>
<polygon points="777.9,291.5 801.4,296.1 801.6,297.2 778.2,292.6" fill="#cfcfcf"/>
<ellipse cx="813.5" cy="296.8" rx="4.2" ry="2" fill="#1a1a1a"/>
<!-- building -->
<clipPath id="bclip"><rect x="830" y="323" width="113" height="83.4"/></clipPath>
<linearGradient id="sky2" x1="0" y1="0" x2="0" y2="1"><stop offset="0" stop-color="#2a64b4"/><stop offset="0.6" stop-color="#4f8fd4"/><stop offset="1" stop-color="#9cc8ec"/></linearGradient>
<rect x="829.5" y="322.5" width="114" height="84.5" fill="#eef0f2"/>
<g clip-path="url(#bclip)">
<rect x="830" y="323" width="113" height="83.4" fill="url(#sky2)"/>
<ellipse cx="840" cy="380" rx="14" ry="6" fill="#e8f0f8"/>
<ellipse cx="852" cy="385" rx="10" ry="4" fill="#dce8f4"/>
<ellipse cx="937" cy="372" rx="13" ry="9" fill="#e4eef8"/>
<rect x="843" y="375" width="7" height="31.4" fill="#c4ccd6"/>
<rect x="930.5" y="380" width="12.1" height="26.4" fill="#a9bccc"/>
<ellipse cx="938" cy="403" rx="8" ry="4" fill="#3d5a38"/>
<rect x="841" y="388.4" width="19.2" height="18" fill="#d8dcdf"/>
<polygon points="851.1,344.1 860.2,336.5 860.2,406.4 851.1,406.4" fill="#566478"/>
<polygon points="851.1,344.1 855,341 855,348 851.1,351" fill="#dfe4ea"/>
<polygon points="860.2,336.5 924.5,349.2 924.5,406.4 860.2,406.4" fill="#e2e5e8"/>
<polygon points="867.2,346.1 919.5,355.2 919.5,388.4 867.2,388.4" fill="#72869f"/>
<polygon points="867.2,346.1 919.5,355.2 919.5,358 867.2,349" fill="#4a5a70"/>
<g stroke="#aab6c4" stroke-width="0.55"><line x1="867.2" y1="350.3" x2="919.5" y2="358.5"/><line x1="867.2" y1="354.6" x2="919.5" y2="361.8"/><line x1="867.2" y1="358.8" x2="919.5" y2="365.2"/><line x1="867.2" y1="363.0" x2="919.5" y2="368.5"/><line x1="867.2" y1="367.2" x2="919.5" y2="371.8"/><line x1="867.2" y1="371.5" x2="919.5" y2="375.1"/><line x1="867.2" y1="375.7" x2="919.5" y2="378.4"/><line x1="867.2" y1="379.9" x2="919.5" y2="381.8"/><line x1="867.2" y1="384.2" x2="919.5" y2="385.1"/><line x1="871.6" y1="346.9" x2="871.6" y2="388.4"/><line x1="875.9" y1="347.6" x2="875.9" y2="388.4"/><line x1="880.3" y1="348.4" x2="880.3" y2="388.4"/><line x1="884.6" y1="349.1" x2="884.6" y2="388.4"/><line x1="889.0" y1="349.9" x2="889.0" y2="388.4"/><line x1="893.4" y1="350.6" x2="893.4" y2="388.4"/><line x1="897.7" y1="351.4" x2="897.7" y2="388.4"/><line x1="902.1" y1="352.2" x2="902.1" y2="388.4"/><line x1="906.4" y1="352.9" x2="906.4" y2="388.4"/><line x1="910.8" y1="353.7" x2="910.8" y2="388.4"/><line x1="915.1" y1="354.4" x2="915.1" y2="388.4"/></g>
<rect x="872" y="388.4" width="47.5" height="18" fill="#eceef0"/>
<rect x="878" y="394" width="36" height="12.4" fill="#6a7888"/>
<g fill="#2a3440"><rect x="879" y="394.4" width="2.5" height="12"/><rect x="884.5" y="394.4" width="2.5" height="12"/><rect x="890" y="394.4" width="2.5" height="12"/><rect x="895.5" y="394.4" width="2.5" height="12"/><rect x="901" y="394.4" width="2.5" height="12"/><rect x="906.5" y="394.4" width="2.5" height="12"/><rect x="911.5" y="394.4" width="2.5" height="12"/></g>
<circle cx="897" cy="391.5" r="1" fill="#b04040"/>
</g>
<!-- texts -->
<g font-family="Liberation Sans" fill="#4476b0" stroke="#4476b0" stroke-width="0.25">
  <text x="247.6" y="103.2" font-size="12" textLength="18.2" lengthAdjust="spacingAndGlyphs">FTP</text>
  <text x="158.2" y="176" font-size="12" textLength="23.6" lengthAdjust="spacingAndGlyphs">PGIS</text>
  <text x="182" y="176" font-size="13">数据</text>
  <text x="305.9" y="172.5" font-size="12" textLength="13.7" lengthAdjust="spacingAndGlyphs">4G</text>
  <text x="320.3" y="172.5" font-size="13">网卡</text>
  <g fill="#3a68a0" stroke="#3a68a0"><text x="37.1" y="338.3" font-size="12" textLength="18.7" lengthAdjust="spacingAndGlyphs">JTT</text>
  <text x="55.8" y="338.3" font-size="13">地面站</text></g>
  <text x="157" y="322.5" font-size="13">视频数据</text>
  <text x="272.9" y="404.7" font-size="12" textLength="14.5" lengthAdjust="spacingAndGlyphs">4G</text>
  <text x="288.2" y="404.3" font-size="13">高清传输设备</text>
</g>
<g font-family="Liberation Sans" fill="#ffffff" stroke="#ffffff" stroke-width="0.2">
  <text x="159.8" y="133.3" font-size="12" textLength="20.3" lengthAdjust="spacingAndGlyphs">USB</text>
  <text x="180.6" y="133.3" font-size="13">接口</text>
  <text x="147.5" y="355.5" font-size="12" textLength="30.5" lengthAdjust="spacingAndGlyphs">HDMI</text>
  <text x="178.3" y="355.5" font-size="13">接口</text>
</g>
<g font-family="Liberation Serif" fill="#444" font-size="10">
  <text x="643.1" y="231">互联网</text>
  <text x="835.3" y="182.2" textLength="38.7" lengthAdjust="spacingAndGlyphs">4G服务器</text>
  <text x="929.5" y="183.6">电视墙</text>
  <text x="823.7" y="241">交换机</text>
  <text x="911.2" y="241">音视频处理器</text>
  <text x="853.3" y="284">管理终端</text>
  <text x="868.2" y="424.6">指挥中心</text>
</g>
</svg>
</body></html>
